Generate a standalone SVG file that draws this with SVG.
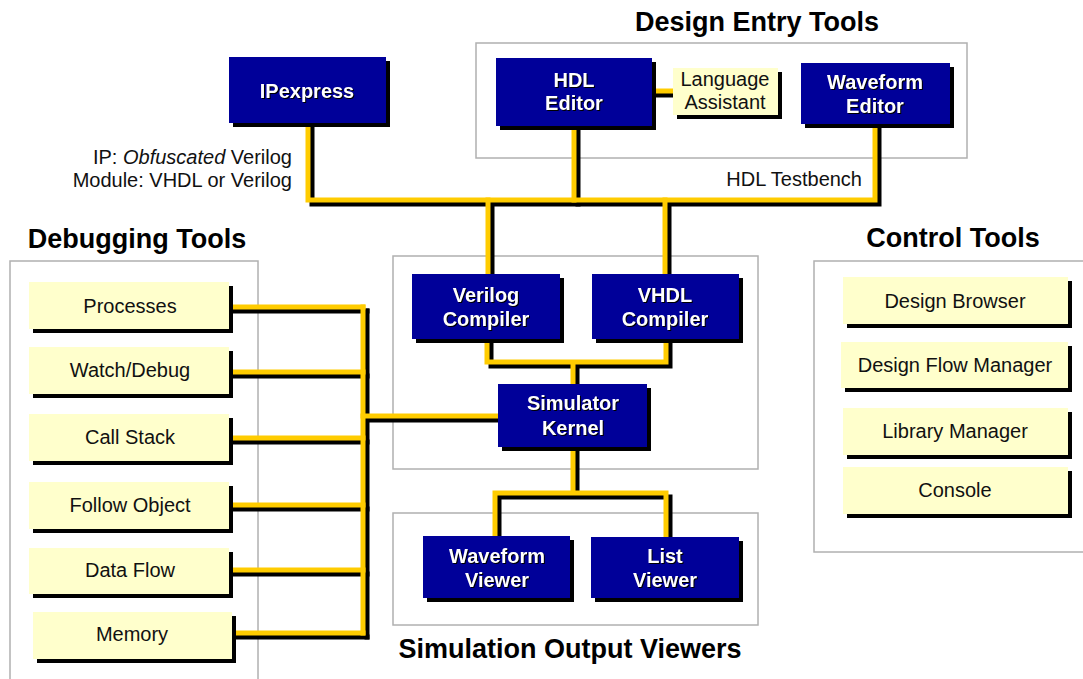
<svg xmlns="http://www.w3.org/2000/svg" width="1083" height="679" viewBox="0 0 1083 679">
<style>
text{font-family:"Liberation Sans",Arial,sans-serif}
.grp{fill:#fff;stroke:#b0b0b0;stroke-width:1.5}
.title{font-size:27px;font-weight:bold;fill:#000;text-anchor:middle}
.nv{fill:#000099}
.lt{fill:#ffffcc}
.sh{fill:#000}
.nt{font-size:20px;font-weight:bold;fill:#fff;text-anchor:middle;filter:drop-shadow(1px 1px 0 #000)}
.ltx{font-size:20px;fill:#111;text-anchor:middle}
.lbl{font-size:20px;fill:#111}
.wy{fill:none;stroke:#ffcc00;stroke-width:5;stroke-linejoin:miter;stroke-linecap:square}
.wb{fill:none;stroke:#000;stroke-width:5;stroke-linejoin:miter;stroke-linecap:square}
</style>
<rect width="1083" height="679" fill="#fff"/>
<g id="groups">
<rect class="grp" x="476" y="43" width="491" height="115"/>
<rect class="grp" x="10" y="261" width="248" height="430"/>
<rect class="grp" x="393" y="256" width="365" height="213"/>
<rect class="grp" x="393" y="513" width="365" height="112"/>
<rect class="grp" x="814" y="261" width="280" height="291"/>
<text class="title" x="757" y="31">Design Entry Tools</text>
<text class="title" x="137" y="248">Debugging Tools</text>
<text class="title" x="953" y="247">Control Tools</text>
<text class="title" x="570" y="658">Simulation Output Viewers</text>
</g>
<g id="labels">
<text class="lbl" x="292" y="164" text-anchor="end">IP: <tspan font-style="italic">Obfuscated</tspan> Verilog</text>
<text class="lbl" x="292" y="187" text-anchor="end">Module: VHDL or Verilog</text>
<text class="lbl" x="862" y="186" text-anchor="end">HDL Testbench</text>
</g>
<g id="connectors">
<g class="wb" transform="translate(4,4)">
<path d="M308,123V200H875V124"/>
<path d="M574,126V200"/>
<path d="M488,200V274M665,200V274"/>
<path d="M487,339V362H666V339M573,362V384"/>
<path d="M498,416H363"/>
<path d="M363,307V633"/>
<path d="M229,307H363M229,372H363M229,438H363M229,505H363M229,570H363M232,633H363"/>
<path d="M573,447V493M495,537V493H666V537"/>
<path d="M652,91H673"/>
</g>
<g class="wy">
<path d="M308,123V200H875V124"/>
<path d="M574,126V200"/>
<path d="M488,200V274M665,200V274"/>
<path d="M487,339V362H666V339M573,362V384"/>
<path d="M498,416H363"/>
<path d="M363,307V633"/>
<path d="M229,307H363M229,372H363M229,438H363M229,505H363M229,570H363M232,633H363"/>
<path d="M573,447V493M495,537V493H666V537"/>
<path d="M652,91H673"/>
</g>
</g>
<g id="ipexpress"><rect class="sh" x="233" y="61" width="157" height="66"/><rect class="nv" x="229" y="57" width="157" height="66"/><text class="nt" x="307" y="98">IPexpress</text></g>
<g id="hdl-editor"><rect class="sh" x="500" y="62" width="156" height="68"/><rect class="nv" x="496" y="58" width="156" height="68"/><text class="nt" x="574" y="87">HDL</text><text class="nt" x="574" y="110">Editor</text></g>
<g id="language-assistant"><rect class="sh" x="677" y="72" width="105" height="47"/><rect class="lt" x="673" y="68" width="105" height="47"/><text class="ltx" x="725" y="86">Language</text><text class="ltx" x="725" y="109">Assistant</text></g>
<g id="waveform-editor"><rect class="sh" x="805" y="67" width="149" height="61"/><rect class="nv" x="801" y="63" width="149" height="61"/><text class="nt" x="875" y="89">Waveform</text><text class="nt" x="875" y="113">Editor</text></g>
<g id="verilog-compiler"><rect class="sh" x="416" y="278" width="148" height="65"/><rect class="nv" x="412" y="274" width="148" height="65"/><text class="nt" x="486" y="302">Verilog</text><text class="nt" x="486" y="326">Compiler</text></g>
<g id="vhdl-compiler"><rect class="sh" x="596" y="278" width="147" height="65"/><rect class="nv" x="592" y="274" width="147" height="65"/><text class="nt" x="665" y="302">VHDL</text><text class="nt" x="665" y="326">Compiler</text></g>
<g id="simulator-kernel"><rect class="sh" x="502" y="388" width="149" height="63"/><rect class="nv" x="498" y="384" width="149" height="63"/><text class="nt" x="573" y="410">Simulator</text><text class="nt" x="573" y="435">Kernel</text></g>
<g id="waveform-viewer"><rect class="sh" x="427" y="540" width="147" height="62"/><rect class="nv" x="423" y="536" width="147" height="62"/><text class="nt" x="497" y="563">Waveform</text><text class="nt" x="497" y="587">Viewer</text></g>
<g id="list-viewer"><rect class="sh" x="595" y="541" width="148" height="61"/><rect class="nv" x="591" y="537" width="148" height="61"/><text class="nt" x="665" y="563">List</text><text class="nt" x="665" y="587">Viewer</text></g>
<g id="processes"><rect class="sh" x="33" y="286" width="200" height="47"/><rect class="lt" x="29" y="282" width="200" height="47"/><text class="ltx" x="130" y="313">Processes</text></g>
<g id="watch-debug"><rect class="sh" x="33" y="351" width="200" height="47"/><rect class="lt" x="29" y="347" width="200" height="47"/><text class="ltx" x="130" y="377">Watch/Debug</text></g>
<g id="call-stack"><rect class="sh" x="33" y="418" width="200" height="47"/><rect class="lt" x="29" y="414" width="200" height="47"/><text class="ltx" x="130" y="444">Call Stack</text></g>
<g id="follow-object"><rect class="sh" x="33" y="486" width="200" height="47"/><rect class="lt" x="29" y="482" width="200" height="47"/><text class="ltx" x="130" y="512">Follow Object</text></g>
<g id="data-flow"><rect class="sh" x="33" y="552" width="200" height="46"/><rect class="lt" x="29" y="548" width="200" height="46"/><text class="ltx" x="130" y="577">Data Flow</text></g>
<g id="memory"><rect class="sh" x="37" y="616" width="199" height="47"/><rect class="lt" x="33" y="612" width="199" height="47"/><text class="ltx" x="132" y="641">Memory</text></g>
<g id="design-browser"><rect class="sh" x="847" y="281" width="225" height="47"/><rect class="lt" x="843" y="277" width="225" height="47"/><text class="ltx" x="955" y="308">Design Browser</text></g>
<g id="design-flow-manager"><rect class="sh" x="845" y="346" width="227" height="46"/><rect class="lt" x="841" y="342" width="227" height="46"/><text class="ltx" x="955" y="372">Design Flow Manager</text></g>
<g id="library-manager"><rect class="sh" x="847" y="412" width="225" height="47"/><rect class="lt" x="843" y="408" width="225" height="47"/><text class="ltx" x="955" y="438">Library Manager</text></g>
<g id="console"><rect class="sh" x="847" y="471" width="225" height="47"/><rect class="lt" x="843" y="467" width="225" height="47"/><text class="ltx" x="955" y="497">Console</text></g>
</svg>
